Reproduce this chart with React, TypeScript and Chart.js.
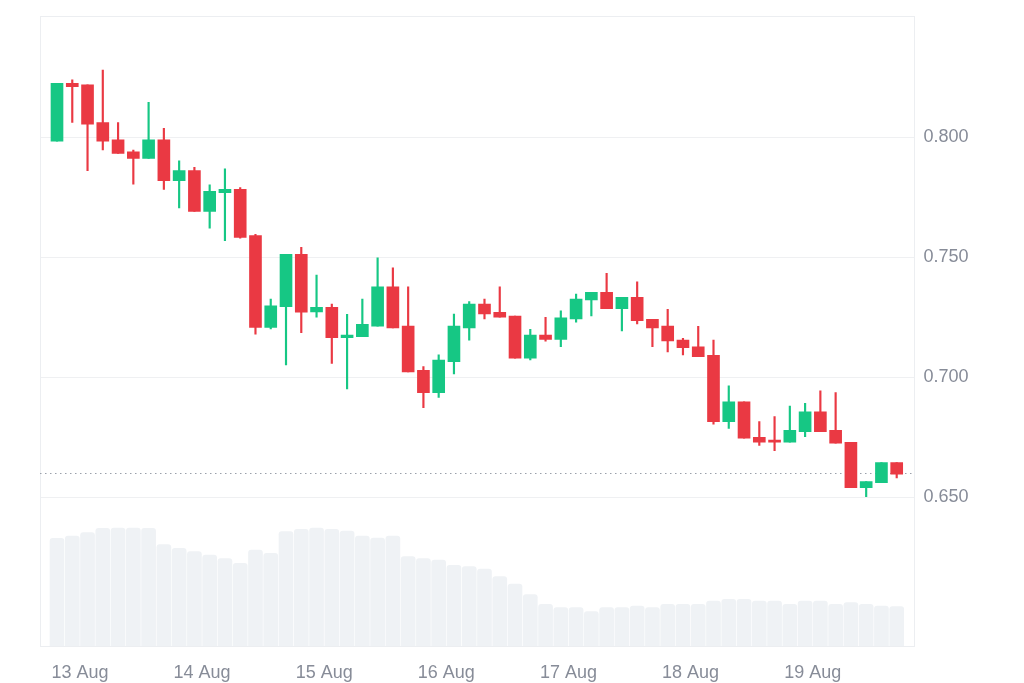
import React, { useEffect, useRef } from "react";
import { Chart, registerables } from "chart.js";

Chart.register(...registerables);

// 3-hour candles, 13–19 Aug
const dayLabels = ["13 Aug", "14 Aug", "15 Aug", "16 Aug", "17 Aug", "18 Aug", "19 Aug"];

const opens = [
  0.7983, 0.8224, 0.8217, 0.8060, 0.7988, 0.7938, 0.7911, 0.7988,
  0.7818, 0.7860, 0.7690, 0.7768, 0.7782, 0.7589, 0.7207, 0.7293,
  0.7511, 0.7271, 0.7290, 0.7164, 0.7168, 0.7212, 0.7376, 0.7212,
  0.7028, 0.6935, 0.7064, 0.7205, 0.7304, 0.7270, 0.7254, 0.7078,
  0.7175, 0.7157, 0.7242, 0.7321, 0.7353, 0.7285, 0.7332, 0.7240,
  0.7212, 0.7154, 0.7126, 0.7090, 0.6814, 0.6897, 0.6749, 0.6736,
  0.6729, 0.6772, 0.6855, 0.6778, 0.6728, 0.6539, 0.6560, 0.6643,
];
const highs = [
  0.8224, 0.8238, 0.8217, 0.8279, 0.8060, 0.7946, 0.8145, 0.8036,
  0.7901, 0.7874, 0.7801, 0.7867, 0.7789, 0.7595, 0.7325, 0.7511,
  0.7540, 0.7425, 0.7304, 0.7261, 0.7325, 0.7497, 0.7455, 0.7376,
  0.7043, 0.7092, 0.7262, 0.7314, 0.7325, 0.7376, 0.7254, 0.7199,
  0.7249, 0.7276, 0.7346, 0.7353, 0.7432, 0.7332, 0.7397, 0.7240,
  0.7282, 0.7161, 0.7211, 0.7154, 0.6963, 0.6897, 0.6814, 0.6835,
  0.6879, 0.6890, 0.6942, 0.6935, 0.6728, 0.6564, 0.6643, 0.6643,
];
const lows = [
  0.7983, 0.8061, 0.7860, 0.7946, 0.7932, 0.7804, 0.7911, 0.7782,
  0.7705, 0.7690, 0.7620, 0.7568, 0.7578, 0.7178, 0.7200, 0.7050,
  0.7185, 0.7249, 0.7057, 0.6950, 0.7168, 0.7212, 0.7205, 0.7021,
  0.6872, 0.6915, 0.7013, 0.7154, 0.7242, 0.7249, 0.7078, 0.7071,
  0.7149, 0.7126, 0.7228, 0.7255, 0.7285, 0.7192, 0.7221, 0.7126,
  0.7105, 0.7092, 0.7085, 0.6803, 0.6786, 0.6745, 0.6715, 0.6693,
  0.6729, 0.6751, 0.6772, 0.6724, 0.6539, 0.6501, 0.6560, 0.6580,
];
const closes = [
  0.8224, 0.8210, 0.8053, 0.7983, 0.7932, 0.7911, 0.7988, 0.7818,
  0.7860, 0.7690, 0.7774, 0.7782, 0.7582, 0.7207, 0.7297, 0.7511,
  0.7270, 0.7290, 0.7164, 0.7175, 0.7220, 0.7376, 0.7205, 0.7021,
  0.6935, 0.7071, 0.7212, 0.7304, 0.7263, 0.7249, 0.7078, 0.7175,
  0.7157, 0.7247, 0.7325, 0.7353, 0.7285, 0.7332, 0.7235, 0.7205,
  0.7150, 0.7122, 0.7085, 0.6814, 0.6897, 0.6745, 0.6729, 0.6729,
  0.6778, 0.6855, 0.6772, 0.6724, 0.6539, 0.6564, 0.6643, 0.6595,
];
// relative volume (same units for all bars)
const volumes = [
  107.7, 110, 113.3, 117.7, 118, 118, 117.7, 101.3,
  97.7, 94.3, 91, 87.3, 82.7, 96, 92.7, 114.3,
  116.7, 118, 116.7, 115, 110, 108, 110, 89.3,
  87.3, 86, 80.7, 79.3, 77, 69.3, 62, 51.5,
  41.7, 38.3, 38.3, 34.3, 38.3, 38.3, 40, 38.3,
  41.7, 41.7, 41.7, 45, 46.7, 46.7, 45, 45,
  41.7, 45, 45, 41.7, 43.3, 41.7, 40, 39.3,
];
const priceTicks = [0.65, 0.7, 0.75, 0.8];
const currentPrice = 0.6599;

const GREEN = "#16c784";
const RED = "#ea3943";
const TEXT = "#878c98";
const GRID = "#eff0f2";
const FONT = "'Liberation Sans', Arial, Helvetica, sans-serif";

export default function App() {
  const ref = useRef<HTMLCanvasElement>(null);

  useEffect(() => {
    if (!ref.current) return;
    const idx = opens.map((_, i) => i);
    const colors = idx.map((i) => (closes[i] >= opens[i] ? GREEN : RED));

    const framePlugin = {
      id: "frame",
      beforeDatasetsDraw(chart: any) {
        const { ctx, chartArea } = chart;
        const ys = chart.scales.y;
        ctx.save();
        ctx.strokeStyle = "#eceef1";
        ctx.lineWidth = 1;
        ctx.strokeRect(
          Math.round(chartArea.left) + 0.5,
          Math.round(chartArea.top) + 0.5,
          Math.round(chartArea.right - chartArea.left),
          Math.round(chartArea.bottom - chartArea.top)
        );
        const py = Math.round(ys.getPixelForValue(currentPrice)) + 0.5;
        ctx.strokeStyle = "#9aa0aa";
        ctx.setLineDash([1.5, 3.5]);
        ctx.beginPath();
        ctx.moveTo(chartArea.left, py);
        ctx.lineTo(chartArea.right, py);
        ctx.stroke();
        ctx.restore();
      },
    };

    const chart = new Chart(ref.current, {
      type: "bar",
      data: {
        datasets: [
          {
            label: "Body",
            data: idx.map((i) => ({ x: i, y: [opens[i], closes[i]] })) as any,
            backgroundColor: colors,
            grouped: false,
            barPercentage: 1,
            categoryPercentage: 1,
            maxBarThickness: 12,
            minBarLength: 2,
            order: 1,
            yAxisID: "y",
          } as any,
          {
            label: "Wick",
            data: idx.map((i) => ({ x: i, y: [lows[i], highs[i]] })) as any,
            backgroundColor: colors,
            grouped: false,
            barPercentage: 1,
            categoryPercentage: 1,
            maxBarThickness: 1.5,
            order: 2,
            yAxisID: "y",
          } as any,
          {
            label: "Volume",
            data: idx.map((i) => ({ x: i, y: volumes[i] })) as any,
            backgroundColor: "#eff2f5",
            grouped: false,
            barPercentage: 1,
            categoryPercentage: 1,
            maxBarThickness: 14,
            borderRadius: 3,
            order: 3,
            yAxisID: "yv",
          } as any,
        ],
      },
      options: {
        responsive: true,
        maintainAspectRatio: false,
        animation: false,
        layout: { padding: { left: 40, top: 16, right: 0, bottom: 0 } },
        plugins: {
          legend: { display: false },
          tooltip: { enabled: false },
        },
        scales: {
          x: {
            type: "linear",
            min: -1.1135,
            max: 56.1,
            offset: false,
            grid: { display: false, drawTicks: false },
            border: { display: false },
            afterBuildTicks: (s: any) => {
              s.ticks = dayLabels.map((_, k) => ({ value: 1.5 + 8 * k }));
            },
            afterFit: (s: any) => {
              s.height = 37;
              s.paddingLeft = 0;
              s.paddingRight = 0;
            },
            ticks: {
              autoSkip: false,
              maxRotation: 0,
              padding: 16,
              color: TEXT,
              font: { family: FONT, size: 18 },
              callback: (v: any) => {
                const k = Math.round((Number(v) - 1.5) / 8);
                return dayLabels[k] ?? "";
              },
            },
          },
          y: {
            type: "linear",
            position: "right",
            min: 0.58792,
            max: 0.85042,
            afterBuildTicks: (s: any) => {
              s.ticks = priceTicks.map((v) => ({ value: v }));
            },
            afterFit: (s: any) => {
              s.width = 110.5;
              s.paddingTop = 0;
              s.paddingBottom = 0;
            },
            grid: { color: GRID, drawTicks: false },
            border: { display: false },
            ticks: {
              padding: 10,
              color: TEXT,
              font: { family: FONT, size: 18 },
              callback: (v: any) => Number(v).toFixed(3),
            },
          },
          yv: {
            type: "linear",
            display: false,
            min: 0,
            max: 630,
          },
        },
      } as any,
      plugins: [framePlugin],
    });

    return () => chart.destroy();
  }, []);

  return (
    <div style={{ position: "fixed", left: 0, top: 0, width: 1024, height: 683, background: "#fff" }}>
      <canvas ref={ref} />
    </div>
  );
}
